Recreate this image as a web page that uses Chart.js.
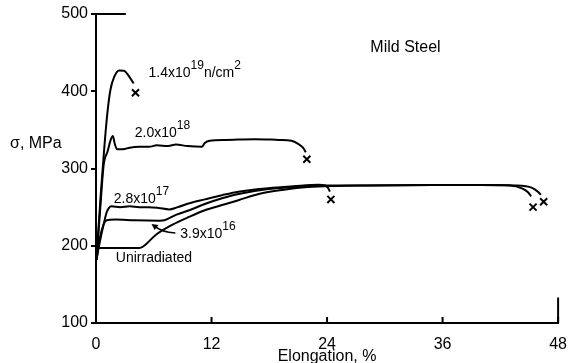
<!DOCTYPE html>
<html>
<head>
<meta charset="utf-8">
<script src="https://cdn.jsdelivr.net/npm/chart.js@4.4.1/dist/chart.umd.min.js"></script>
<style>
  html, body { margin: 0; padding: 0; background: #fff; }
</style>
</head>
<body>
<canvas id="steelChart" width="571" height="363"></canvas>
<script>
const FONT = '"Liberation Sans", Arial, Helvetica, sans-serif';

const xTicks = [0, 12, 24, 36, 48];
const yTicks = [100, 200, 300, 400, 500];

// elongation (%) / stress (MPa)
const fluence19 = [
    [0.05, 182], [0.5, 268], [0.9, 333], [1.2, 374], [1.5, 402], [1.9, 419],
    [2.4, 427], [2.9, 426.5], [3.4, 420], [3.9, 410]
];
const fluence18 = [
    [0.05, 182], [0.45, 250], [0.8, 305], [1.2, 322], [1.5, 336], [1.75, 342],
    [1.95, 332], [2.2, 325], [2.8, 325], [3.5, 327], [4.5, 328], [5.5, 328],
    [6.3, 330], [7.5, 329], [8.3, 331], [9.5, 329], [11.0, 328], [11.3, 333],
    [11.8, 336], [13.5, 337], [16.5, 338], [19.0, 337], [20.3, 336], [21.0, 332],
    [21.5, 327], [21.8, 321]
];
const fluence17 = [
    [0.05, 182], [0.4, 205], [0.8, 228], [1.1, 243], [1.35, 249], [1.6, 251],
    [2.5, 250], [3.5, 251], [4.5, 250], [5.5, 250], [6.5, 249], [7.6, 247],
    [8.5, 250], [9.7, 255], [11.3, 260], [13.1, 265.5], [14.8, 270], [17.9, 274.5],
    [20.5, 277], [23.1, 279], [23.8, 278], [24.1, 275], [24.3, 270]
];
const fluence16 = [
    [0.05, 182], [0.4, 210], [0.8, 228], [1.1, 233], [2.0, 234], [4.0, 233],
    [6.6, 232.5], [7.1, 233], [8.3, 240], [9.7, 246], [11.3, 254], [13.1, 261.4],
    [14.8, 267], [17.9, 273.5], [20.5, 276], [23.1, 278], [28, 278], [35, 278.5],
    [40, 278.5], [43, 278], [44.3, 274], [44.9, 269], [45.2, 264]
];
const unirradiated = [
    [0.05, 182], [0.1, 196], [0.3, 197], [2.0, 197], [4.5, 197], [4.9, 199],
    [6.2, 214], [7.9, 227], [9.7, 237.6], [11.3, 246], [13.1, 252.7], [14.8, 259],
    [16.9, 267], [19.5, 272.5], [22, 276], [25, 277.5], [28, 278], [35, 278.5],
    [40, 278.5], [43.5, 278], [45.3, 275], [45.9, 270], [46.2, 266]
];
// fracture points (x marks)
const fractures = [[4.1, 398], [21.9, 312], [24.4, 260], [45.4, 250], [46.5, 257]];

// curve labels: text parts, superscripts flagged
const curveLabels = [
    { parts: [['1.4x10'], ['19', 1], ['n/cm'], ['2', 1]], x: 5.46, y: 418 },
    { parts: [['2.0x10'], ['18', 1]], x: 4.02, y: 341 },
    { parts: [['2.8x10'], ['17', 1]], x: 1.85, y: 255 },
    { parts: [['3.9x10'], ['16', 1]], x: 8.76, y: 210 },
    { parts: [['Unirradiated']], x: 2.06, y: 179 }
];

function toPoints(arr) {
    return arr.map(p => ({ x: p[0], y: p[1] }));
}

function curve(arr) {
    return {
        data: toPoints(arr),
        showLine: true,
        borderColor: '#000',
        borderWidth: 2,
        pointRadius: 0,
        cubicInterpolationMode: 'monotone'
    };
}

function drawParts(ctx, parts, x, y, size) {
    let cx = x;
    parts.forEach(p => {
        const sup = p[1] === 1;
        ctx.font = (sup ? size - 2 : size) + 'px ' + FONT;
        ctx.fillText(p[0], cx, sup ? y - 8 : y);
        cx += ctx.measureText(p[0]).width;
    });
}

const decorPlugin = {
    id: 'decor',
    afterDraw(chart) {
        const ctx = chart.ctx;
        const xs = chart.scales.x;
        const ys = chart.scales.y;
        const area = chart.chartArea;
        ctx.save();
        ctx.strokeStyle = '#000';
        ctx.fillStyle = '#000';
        ctx.lineWidth = 2;

        // inward ticks on the elongation axis
        xTicks.forEach(v => {
            const px = xs.getPixelForValue(v);
            ctx.beginPath();
            ctx.moveTo(px, area.bottom);
            ctx.lineTo(px, area.bottom - 6);
            ctx.stroke();
        });

        // short frame stubs top-left and bottom-right
        ctx.beginPath();
        ctx.moveTo(xs.getPixelForValue(0), ys.getPixelForValue(500));
        ctx.lineTo(xs.getPixelForValue(3.1), ys.getPixelForValue(500));
        ctx.moveTo(xs.getPixelForValue(48), ys.getPixelForValue(100));
        ctx.lineTo(xs.getPixelForValue(48), ys.getPixelForValue(133));
        ctx.stroke();

        // labels
        ctx.textBaseline = 'alphabetic';
        ctx.textAlign = 'left';
        curveLabels.forEach(l => {
            drawParts(ctx, l.parts, xs.getPixelForValue(l.x), ys.getPixelForValue(l.y), 14);
        });
        ctx.font = '16px ' + FONT;
        ctx.fillText('Mild Steel', xs.getPixelForValue(28.5), ys.getPixelForValue(451));

        // y axis title, horizontal
        ctx.textBaseline = 'middle';
        ctx.fillText('\u03c3, MPa', area.left - 86, ys.getPixelForValue(332));

        // arrow to the 3.9x10^16 curve
        const sx = xs.getPixelForValue(8.24), sy = ys.getPixelForValue(216.5);
        const tx = xs.getPixelForValue(5.77), ty = ys.getPixelForValue(228);
        ctx.lineWidth = 1.5;
        ctx.beginPath();
        ctx.moveTo(sx, sy);
        ctx.quadraticCurveTo(sx - 14, sy - 1, tx + 3, ty + 2);
        ctx.stroke();
        ctx.beginPath();
        ctx.moveTo(tx, ty);
        ctx.lineTo(tx + 7, ty + 1);
        ctx.lineTo(tx + 3, ty + 6);
        ctx.closePath();
        ctx.fill();
        ctx.restore();
    }
};

new Chart(document.getElementById('steelChart').getContext('2d'), {
    type: 'scatter',
    data: {
        datasets: [
            curve(fluence19),
            curve(fluence18),
            curve(fluence17),
            curve(fluence16),
            curve(unirradiated),
            {
                data: toPoints(fractures),
                showLine: false,
                pointStyle: 'crossRot',
                pointRadius: 5,
                borderWidth: 2,
                borderColor: '#000'
            }
        ]
    },
    options: {
        responsive: false,
        animation: false,
        devicePixelRatio: 1,
        layout: { padding: { left: 0, right: 9, top: 14, bottom: 0 } },
        plugins: {
            legend: { display: false },
            tooltip: { enabled: false }
        },
        scales: {
            x: {
                type: 'linear',
                min: 0,
                max: 48,
                afterBuildTicks: s => { s.ticks = xTicks.map(v => ({ value: v })); },
                afterFit: s => { s.height = 40; },
                ticks: { font: { family: FONT, size: 16 }, color: '#000', padding: 4, maxRotation: 0 },
                grid: { display: false },
                border: { display: true, color: '#000', width: 2 },
                title: {
                    display: true,
                    text: 'Elongation, %',
                    color: '#000',
                    font: { family: FONT, size: 16 },
                    padding: { top: 0, bottom: -3 }
                }
            },
            y: {
                type: 'linear',
                min: 100,
                max: 500,
                afterBuildTicks: s => { s.ticks = yTicks.map(v => ({ value: v })); },
                afterFit: s => { s.width = 96; },
                ticks: { font: { family: FONT, size: 16 }, color: '#000', padding: 3 },
                grid: { drawOnChartArea: false, drawTicks: true, tickLength: 5, color: '#000', lineWidth: 2 },
                border: { display: true, color: '#000', width: 2 }
            }
        }
    },
    plugins: [decorPlugin]
});
</script>
</body>
</html>
